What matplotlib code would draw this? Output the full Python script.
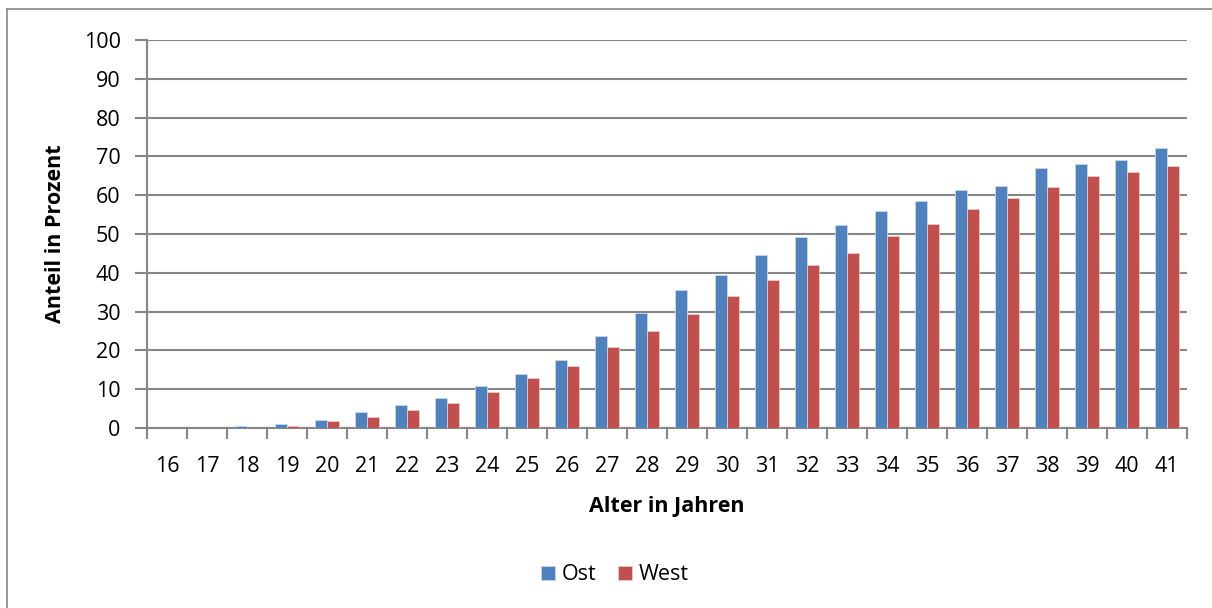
import matplotlib
matplotlib.use('Agg')
import matplotlib.pyplot as plt
import numpy as np
from matplotlib.lines import Line2D

# Anteil in Prozent nach Alter, Ost vs. West
alter = list(range(16, 42))
ost = [0, 0, 0.4, 1.0, 2.1, 4.0, 6.0, 7.8, 10.9, 14.0, 17.4, 23.8, 29.6, 35.5,
       39.4, 44.5, 49.2, 52.2, 55.9, 58.4, 61.3, 62.4, 66.9, 68.1, 69.2, 72.1]
west = [0, 0, 0.1, 0.5, 1.9, 2.9, 4.6, 6.5, 9.2, 12.8, 16.1, 20.9, 24.9, 29.5,
        34.0, 38.2, 41.9, 45.1, 49.6, 52.6, 56.4, 59.3, 62.2, 64.9, 66.1, 67.4]

plt.rcParams['font.family'] = ['Open Sans', 'DejaVu Sans']

grey = '#868686'
fs = 15.5
fig = plt.figure(figsize=(12.12, 6.08), dpi=100)
ax = fig.add_axes([147/1212, 1 - 428/608, 1040/1212, 388/608])

x = np.arange(len(alter))
w = 0.29
ax.bar(x - w/2, ost, w, color='#4F81BD', edgecolor='#c9d7ea', linewidth=0.6, label='Ost', zorder=3)
ax.bar(x + w/2, west, w, color='#C0504D', edgecolor='#ecc9c8', linewidth=0.6, label='West', zorder=3)

ax.set_xlim(-0.5, len(alter) - 0.5)
ax.set_ylim(0, 100)
ax.set_yticks(range(0, 101, 10))
ax.yaxis.grid(True, color=grey, linewidth=1.5, zorder=0)
ax.set_axisbelow(True)

# category boundary ticks on x, labels centered in each slot
ax.set_xticks(np.arange(-0.5, len(alter)), minor=False)
ax.set_xticklabels([])
ax.set_xticks(x, minor=True)
ax.set_xticklabels([str(a) for a in alter], minor=True, fontsize=fs)
ax.tick_params(axis='x', which='major', length=8, width=1.5, color=grey, direction='out')
ax.tick_params(axis='x', which='minor', length=0, pad=20)
ax.tick_params(axis='y', length=9, width=1.5, color=grey, labelsize=fs, pad=10)

for side in ['top', 'right']:
    ax.spines[side].set_visible(False)
for side in ['left', 'bottom']:
    ax.spines[side].set_color(grey)
    ax.spines[side].set_linewidth(1.5)

ax.set_xlabel('Alter in Jahren', fontsize=fs, fontweight='bold', labelpad=14)
ax.set_ylabel('Anteil in Prozent', fontsize=fs, fontweight='bold', labelpad=13)

fig.legend(loc='center', bbox_to_anchor=(615/1212, 1 - 575/608), ncol=2, frameon=False,
           fontsize=fs, handlelength=0.65, handleheight=0.65, handletextpad=0.3,
           columnspacing=1.0)

# outer chart frame (top and left edges)
fig.add_artist(Line2D([7/1212, 1], [1 - 9/608, 1 - 9/608], color=grey, linewidth=1.2))
fig.add_artist(Line2D([7/1212, 7/1212], [0, 1 - 9/608], color=grey, linewidth=1.2))

plt.savefig('out.png', dpi=100)
